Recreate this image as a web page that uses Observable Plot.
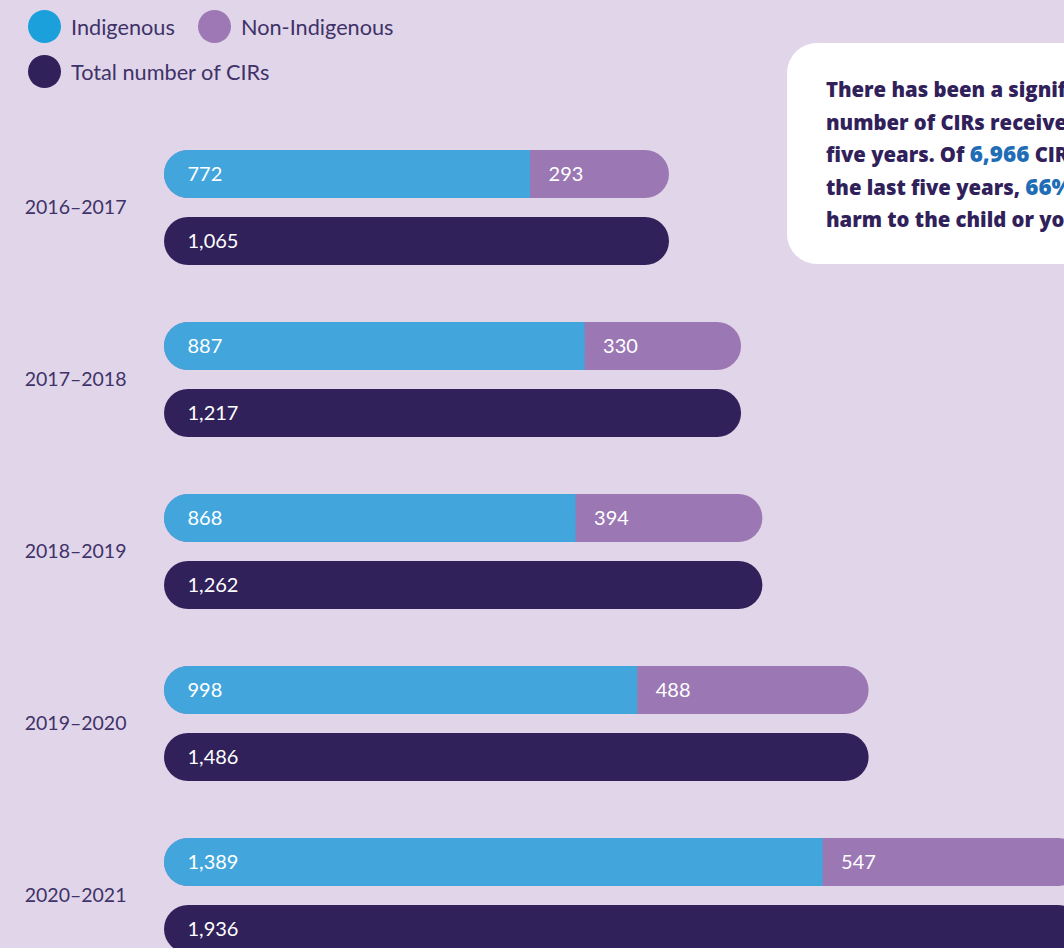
<!DOCTYPE html>
<html>
<head>
<meta charset="utf-8">
<script src="https://cdn.jsdelivr.net/npm/d3@7"></script>
<script src="https://cdn.jsdelivr.net/npm/@observablehq/plot@0.6"></script>
<style>
  html, body { margin: 0; padding: 0; background: #e1d5e9; overflow: hidden; width: 1064px; height: 948px; }
  #wrap { position: relative; width: 1064px; height: 948px; overflow: hidden; font-family: Lato, "Noto Sans", sans-serif; }
  #chart { position: absolute; left: 0; top: 0; width: 1100px; }
  #chart svg { max-width: none !important; }
  .lg { position: absolute; display: flex; align-items: center; font-size: 21.7px; color: #3e3268; white-space: nowrap; }
  .dot { width: 33px; height: 33px; border-radius: 50%; margin-right: 10px; }
  #note { position: absolute; left: 787px; top: 43px; width: 340px; height: 221px; background: #fff; border-radius: 30px;
          box-sizing: border-box; padding: 30px 0 0 39px; font-family: "Open Sans", Lato, sans-serif; font-weight: 800; font-size: 20.3px; line-height: 32.5px; color: #30215b; white-space: nowrap; }
  #note .n { color: #1f6db5; font-size: 22.5px; }
</style>
</head>
<body>
<div id="wrap">
  <div id="chart"></div>
  <div class="lg" style="left:28px; top:10px;"><span class="dot" style="background:#1ba0db"></span>Indigenous</div>
  <div class="lg" style="left:198px; top:10px;"><span class="dot" style="background:#9e78b4"></span>Non-Indigenous</div>
  <div class="lg" style="left:28px; top:55px;"><span class="dot" style="background:#30215b"></span>Total number of CIRs</div>
  <div id="note">
    There has been a significant increase in the<br>
    number of CIRs received over the last<br>
    five years. Of <span class="n">6,966</span> CIRs received in<br>
    the last five years, <span class="n">66%</span> related to<br>
    harm to the child or young person.
  </div>
</div>
<script>
const years = ["2016–2017", "2017–2018", "2018–2019", "2019–2020", "2020–2021"];
const indigenous = [772, 887, 868, 998, 1389];
const nonIndigenous = [293, 330, 394, 488, 547];
const totals = [1065, 1217, 1262, 1486, 1936];

const colors = { indigenous: "#42a6dd", nonIndigenous: "#9b77b4", total: "#30215b" };

const rows = years.map((year, i) => ({
  year,
  indigenous: indigenous[i],
  nonIndigenous: nonIndigenous[i],
  total: totals[i]
}));

const fmt = d3.format(",");

const chart = Plot.plot({
  width: 1100,
  height: 1000,
  marginLeft: 164,
  marginRight: 0,
  marginTop: 150,
  marginBottom: 47,
  style: { fontFamily: "Lato, 'Noto Sans', sans-serif", background: "transparent", color: "#3e3268", maxWidth: "none" },
  x: { domain: [0, 1974], axis: null },
  y: { domain: ["parts", "total"], paddingInner: 19 / 67, paddingOuter: 0, axis: null },
  fy: { domain: years, paddingInner: 57 / 172, paddingOuter: 0, label: null },
  marks: [
    Plot.axisFy({ anchor: "left", tickSize: 0, tickPadding: 38, fontSize: 19.5, fill: "#3e3268", label: null }),
    Plot.barX(rows, { fy: "year", y: () => "parts", x1: 0, x2: d => d.indigenous + d.nonIndigenous, fill: colors.nonIndigenous, rx: 24 }),
    Plot.barX(rows, { fy: "year", y: () => "parts", x1: 0, x2: "indigenous", fill: colors.indigenous, rx: 24 }),
    Plot.barX(rows, { fy: "year", y: () => "parts", x1: 0, x2: "indigenous", insetLeft: 24, fill: colors.indigenous }),
    Plot.barX(rows, { fy: "year", y: () => "total", x1: 0, x2: "total", fill: colors.total, rx: 24 }),
    Plot.text(rows, { fy: "year", y: () => "parts", x: 0, dx: 23, text: d => fmt(d.indigenous), textAnchor: "start", fill: "white", fontSize: 20 }),
    Plot.text(rows, { fy: "year", y: () => "parts", x: "indigenous", dx: 18, text: d => fmt(d.nonIndigenous), textAnchor: "start", fill: "white", fontSize: 20 }),
    Plot.text(rows, { fy: "year", y: () => "total", x: 0, dx: 23, text: d => fmt(d.total), textAnchor: "start", fill: "white", fontSize: 20 })
  ]
});

document.getElementById("chart").appendChild(chart);
</script>
</body>
</html>
